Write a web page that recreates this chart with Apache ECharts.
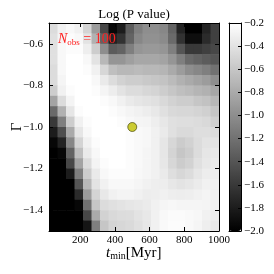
<!DOCTYPE html>
<html>
<head>
<meta charset="utf-8">
<script src="https://cdn.jsdelivr.net/npm/echarts@6/dist/echarts.min.js"></script>
<style>
html,body{margin:0;padding:0;background:#fff;}
#c{width:274px;height:274px;}
</style>
</head>
<body>
<div id="c"></div>
<script>
// ---- data ----
const title = 'Log (P value)';
const nObs = 100;
// cell centres along t_min (Myr) and Gamma (top row first)
const tCenters = [44.5, 93.5, 142.5, 191.5, 240.5, 289.5, 338.5, 387.5, 436.5, 485.5,
                  534.5, 583.5, 632.5, 681.5, 730.5, 779.5, 828.5, 877.5, 926.5, 975.5];
const gammaCenters = [-0.525, -0.575, -0.625, -0.675, -0.725, -0.775, -0.825, -0.875, -0.925, -0.975,
                      -1.025, -1.075, -1.125, -1.175, -1.225, -1.275, -1.325, -1.375, -1.425, -1.475];
const cellT = 49;
const cellG = 0.05;
// log10 P value, one row per gammaCenters entry, one column per tCenters entry
const logP = [
  [-0.45,-0.30,-0.25,-0.30,-0.50,-0.90,-1.50,-1.95,-1.80,-1.35,-1.10,-1.00,-1.00,-1.05,-1.30,-1.75,-2.00,-2.00,-1.75,-1.55],
  [-0.42,-0.28,-0.22,-0.25,-0.40,-0.75,-1.30,-1.75,-1.65,-1.30,-1.05,-0.98,-0.98,-1.02,-1.25,-1.65,-1.90,-1.90,-1.70,-1.55],
  [-0.42,-0.25,-0.22,-0.22,-0.32,-0.55,-1.00,-1.35,-1.30,-1.10,-0.95,-0.92,-0.92,-0.95,-1.10,-1.40,-1.60,-1.60,-1.55,-1.50],
  [-0.42,-0.25,-0.20,-0.20,-0.25,-0.40,-0.70,-0.95,-0.95,-0.88,-0.82,-0.82,-0.82,-0.85,-0.95,-1.10,-1.25,-1.30,-1.35,-1.40],
  [-0.45,-0.25,-0.20,-0.20,-0.22,-0.30,-0.48,-0.65,-0.70,-0.70,-0.68,-0.70,-0.70,-0.72,-0.80,-0.90,-1.00,-1.05,-1.10,-1.20],
  [-0.45,-0.27,-0.20,-0.20,-0.20,-0.25,-0.35,-0.45,-0.52,-0.55,-0.55,-0.58,-0.60,-0.62,-0.68,-0.75,-0.80,-0.85,-0.90,-1.00],
  [-0.55,-0.30,-0.22,-0.20,-0.20,-0.22,-0.27,-0.33,-0.40,-0.45,-0.45,-0.48,-0.50,-0.55,-0.60,-0.65,-0.68,-0.72,-0.75,-0.82],
  [-0.85,-0.45,-0.28,-0.20,-0.20,-0.20,-0.22,-0.25,-0.30,-0.35,-0.38,-0.40,-0.42,-0.47,-0.52,-0.55,-0.55,-0.60,-0.63,-0.70],
  [-1.25,-0.75,-0.38,-0.22,-0.20,-0.20,-0.20,-0.22,-0.25,-0.28,-0.30,-0.33,-0.36,-0.42,-0.47,-0.48,-0.48,-0.50,-0.53,-0.60],
  [-1.60,-1.10,-0.55,-0.30,-0.22,-0.20,-0.20,-0.20,-0.22,-0.25,-0.27,-0.28,-0.32,-0.37,-0.42,-0.43,-0.43,-0.45,-0.47,-0.53],
  [-1.80,-1.45,-0.80,-0.38,-0.25,-0.20,-0.20,-0.20,-0.20,-0.22,-0.24,-0.26,-0.30,-0.35,-0.42,-0.46,-0.46,-0.43,-0.43,-0.45],
  [-1.95,-1.75,-1.05,-0.50,-0.30,-0.22,-0.20,-0.20,-0.20,-0.22,-0.24,-0.26,-0.30,-0.38,-0.48,-0.56,-0.52,-0.45,-0.40,-0.40],
  [-2.00,-1.95,-1.30,-0.65,-0.35,-0.25,-0.20,-0.20,-0.20,-0.22,-0.24,-0.27,-0.30,-0.38,-0.50,-0.60,-0.55,-0.45,-0.38,-0.36],
  [-2.00,-2.00,-1.50,-0.85,-0.45,-0.28,-0.22,-0.20,-0.20,-0.22,-0.24,-0.27,-0.30,-0.37,-0.48,-0.56,-0.52,-0.42,-0.36,-0.34],
  [-2.00,-2.00,-1.80,-1.10,-0.55,-0.35,-0.25,-0.22,-0.22,-0.22,-0.25,-0.27,-0.30,-0.35,-0.43,-0.48,-0.45,-0.38,-0.33,-0.32],
  [-2.00,-2.00,-2.00,-1.40,-0.70,-0.40,-0.30,-0.25,-0.25,-0.25,-0.27,-0.30,-0.32,-0.33,-0.37,-0.40,-0.38,-0.34,-0.30,-0.30],
  [-2.00,-2.00,-2.00,-1.70,-0.90,-0.50,-0.36,-0.30,-0.28,-0.28,-0.30,-0.33,-0.32,-0.30,-0.32,-0.33,-0.32,-0.30,-0.28,-0.30],
  [-2.00,-2.00,-2.00,-1.95,-1.20,-0.60,-0.45,-0.42,-0.40,-0.38,-0.36,-0.34,-0.30,-0.27,-0.26,-0.27,-0.27,-0.27,-0.28,-0.30],
  [-2.00,-2.00,-2.00,-2.00,-1.50,-0.80,-0.52,-0.47,-0.45,-0.44,-0.40,-0.36,-0.30,-0.25,-0.23,-0.23,-0.24,-0.26,-0.30,-0.33],
  [-2.00,-2.00,-2.00,-2.00,-1.85,-1.10,-0.60,-0.50,-0.48,-0.46,-0.42,-0.37,-0.30,-0.24,-0.22,-0.22,-0.24,-0.27,-0.32,-0.36]
];
const bestPoint = [500, -1.0];
const xRange = [20, 1000];
const yRange = [-1.5, -0.5];
const xTicks = [200, 400, 600, 800, 1000];
const yTicks = [-1.4, -1.2, -1.0, -0.8, -0.6];
const cbarRange = [-2.0, -0.2];

// ---- build ----
const cells = [];
gammaCenters.forEach((g, r) => tCenters.forEach((t, c) => cells.push([t, g, logP[r][c]])));

const FONT = 'Liberation Serif';
const fmt = v => (v < 0 ? '\u2212' : '') + Math.abs(v).toFixed(1);
const G = {left: 49, top: 23, width: 170, height: 208};
const CB = {left: 229, top: 23, width: 12, height: 208};

const chart = echarts.init(document.getElementById('c'), null, {renderer: 'canvas'});
const tickStyle = {color: '#000', width: 1};
const lbl = {color: '#000', fontFamily: FONT, fontSize: 11};

chart.setOption({
  animation: false,
  backgroundColor: '#fff',
  grid: [
    Object.assign({containLabel: false}, G),
    Object.assign({containLabel: false}, CB)
  ],
  xAxis: [
    {gridIndex: 0, type: 'value', min: xRange[0], max: xRange[1], position: 'bottom', z: 10,
     axisLine: {show: true, onZero: false, lineStyle: {color: '#000', width: 1}},
     axisTick: {show: true, inside: true, length: 4, lineStyle: tickStyle, customValues: xTicks},
     axisLabel: Object.assign({show: true, margin: 4, customValues: xTicks, formatter: v => String(v)}, lbl),
     splitLine: {show: false}},
    {gridIndex: 0, type: 'value', min: xRange[0], max: xRange[1], position: 'top', z: 10,
     axisLine: {show: true, onZero: false, lineStyle: {color: '#000', width: 1}},
     axisTick: {show: true, inside: true, length: 4, lineStyle: tickStyle, customValues: xTicks},
     axisLabel: {show: false}, splitLine: {show: false}},
    {gridIndex: 1, type: 'value', min: 0, max: 1, position: 'bottom', z: 10,
     axisLine: {show: true, onZero: false, lineStyle: {color: '#000', width: 1}},
     axisTick: {show: false}, axisLabel: {show: false}, splitLine: {show: false}},
    {gridIndex: 1, type: 'value', min: 0, max: 1, position: 'top', z: 10,
     axisLine: {show: true, onZero: false, lineStyle: {color: '#000', width: 1}},
     axisTick: {show: false}, axisLabel: {show: false}, splitLine: {show: false}}
  ],
  yAxis: [
    {gridIndex: 0, type: 'value', min: yRange[0], max: yRange[1], position: 'left', z: 10,
     axisLine: {show: true, onZero: false, lineStyle: {color: '#000', width: 1}},
     axisTick: {show: true, inside: true, length: 4, lineStyle: tickStyle, customValues: yTicks},
     axisLabel: Object.assign({show: true, margin: 6, customValues: yTicks, formatter: fmt}, lbl),
     splitLine: {show: false}},
    {gridIndex: 0, type: 'value', min: yRange[0], max: yRange[1], position: 'right', z: 10,
     axisLine: {show: true, onZero: false, lineStyle: {color: '#000', width: 1}},
     axisTick: {show: true, inside: true, length: 4, lineStyle: tickStyle, customValues: yTicks},
     axisLabel: {show: false}, splitLine: {show: false}},
    {gridIndex: 1, type: 'value', min: cbarRange[0], max: cbarRange[1], interval: 0.2, position: 'right', z: 10,
     axisLine: {show: true, onZero: false, lineStyle: {color: '#000', width: 1}},
     axisTick: {show: true, inside: true, length: 3, lineStyle: tickStyle},
     axisLabel: Object.assign({show: true, margin: 3, formatter: fmt, showMinLabel: true, showMaxLabel: true}, lbl),
     splitLine: {show: false}},
    {gridIndex: 1, type: 'value', min: cbarRange[0], max: cbarRange[1], position: 'left', z: 10,
     axisLine: {show: true, onZero: false, lineStyle: {color: '#000', width: 1}},
     axisTick: {show: false}, axisLabel: {show: false}, splitLine: {show: false}}
  ],
  visualMap: {
    type: 'continuous', seriesIndex: 0, dimension: 2,
    min: cbarRange[0], max: cbarRange[1],
    inRange: {color: ['#000000', '#ffffff']},
    calculable: false, orient: 'vertical', padding: 0,
    left: CB.left, top: CB.top, itemWidth: CB.width, itemHeight: CB.height,
    text: null, showLabel: false, z: 2
  },
  graphic: [
    {type: 'text', x: 134, y: 15, z: 20,
     style: {text: title, fontFamily: FONT, fontSize: 13, fill: '#000', align: 'center', verticalAlign: 'middle'}},
    {type: 'text', left: 58, top: 32, z: 20,
     style: {text: '{n|N}{s|obs}{e| = ' + nObs + '}', fill: '#ff2020',
       rich: {n: {fontFamily: FONT, fontStyle: 'italic', fontSize: 14, fill: '#ff2020', lineHeight: 16},
              s: {fontFamily: FONT, fontSize: 9, fill: '#ff2020', lineHeight: 16, verticalAlign: 'bottom', padding: [5, 0, 0, 0]},
              e: {fontFamily: FONT, fontSize: 14, fill: '#ff2020', lineHeight: 16}}}},
    {type: 'text', left: 106, top: 245, z: 20,
     style: {text: '{t|t}{s|min}{e|[Myr]}',
       rich: {t: {fontFamily: FONT, fontStyle: 'italic', fontSize: 15, fill: '#000', lineHeight: 18},
              s: {fontFamily: FONT, fontSize: 10, fill: '#000', lineHeight: 18, padding: [6, 0, 0, 0]},
              e: {fontFamily: FONT, fontSize: 15, fill: '#000', lineHeight: 18}}}},
    {type: 'text', x: 17, y: 127, rotation: Math.PI / 2, z: 20,
     style: {text: '\u0393', fontFamily: FONT, fontSize: 15, fill: '#000', align: 'center', verticalAlign: 'middle'}}
  ],
  series: [
    {type: 'custom', xAxisIndex: 0, yAxisIndex: 0, data: cells, clip: true, z: 1,
     encode: {x: 0, y: 1},
     renderItem: function (params, api) {
       const t = api.value(0), g = api.value(1);
       const p0 = api.coord([t - cellT / 2, g + cellG / 2]);
       const p1 = api.coord([t + cellT / 2, g - cellG / 2]);
       return {type: 'rect',
               shape: {x: p0[0], y: p0[1], width: p1[0] - p0[0] + 0.6, height: p1[1] - p0[1] + 0.6},
               style: {fill: api.visual('color'), stroke: null}};
     }},
    {type: 'scatter', xAxisIndex: 0, yAxisIndex: 0, data: [bestPoint], z: 5,
     symbol: 'circle', symbolSize: 9,
     itemStyle: {color: '#bfbf00', borderColor: '#3a3a00', borderWidth: 0.8}}
  ]
});
</script>
</body>
</html>
